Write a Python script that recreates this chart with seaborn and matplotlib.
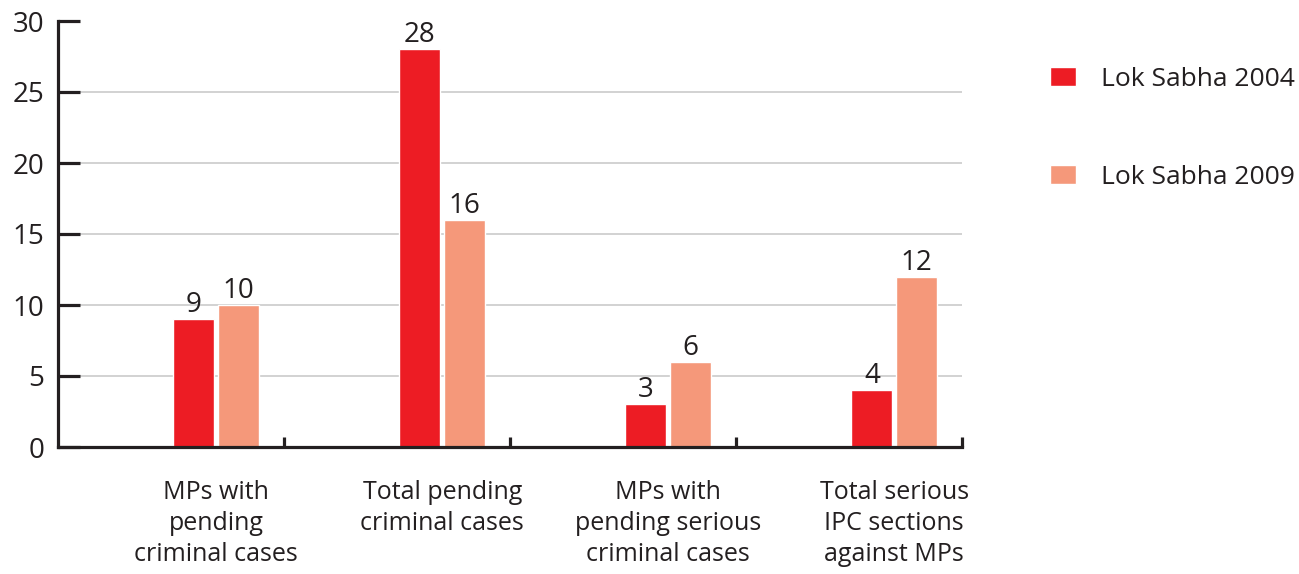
import matplotlib.pyplot as plt
import pandas as pd
import seaborn as sns
from matplotlib.ticker import FixedLocator

# chart data
categories = [
    'MPs with\npending\ncriminal cases',
    'Total pending\ncriminal cases',
    'MPs with\npending serious\ncriminal cases',
    'Total serious\nIPC sections\nagainst MPs',
]
series_names = ['Lok Sabha 2004', 'Lok Sabha 2009']
values_2004 = [9, 28, 3, 4]
values_2009 = [10, 16, 6, 12]
y_ticks = [0, 5, 10, 15, 20, 25, 30]

colors = {'Lok Sabha 2004': '#ED1C24', 'Lok Sabha 2009': '#F5987A'}
ink = '#231F20'

df = pd.DataFrame({
    'Category': categories * 2,
    'Series': [series_names[0]] * 4 + [series_names[1]] * 4,
    'Value': values_2004 + values_2009,
})

sns.set_style('white')
plt.rcParams['font.family'] = ['Open Sans', 'DejaVu Sans']
plt.rcParams['text.color'] = ink

fig = plt.figure(figsize=(12.99, 5.74), dpi=100)
ax = fig.add_axes([58 / 1299, 1 - 447 / 574, (962 - 58) / 1299, (447 - 21) / 574])

sns.barplot(data=df, x='Category', y='Value', hue='Series', palette=colors,
            width=0.395, gap=0.085, saturation=1, ax=ax)

# value labels on top of bars
for container in ax.containers:
    ax.bar_label(container, fontsize=20, color=ink, padding=0)

ax.set_xlim(-0.7, 3.3)
ax.set_ylim(0, 30)
ax.set_yticks(y_ticks)
ax.set_xlabel('')
ax.set_ylabel('')

# gridlines (none at the top value)
for y in y_ticks[1:-1]:
    ax.axhline(y, color='#D2D2D2', linewidth=1.4, zorder=0)

for side in ['top', 'right']:
    ax.spines[side].set_visible(False)
for side in ['left', 'bottom']:
    ax.spines[side].set_color(ink)
    ax.spines[side].set_linewidth(2.3)

ax.tick_params(axis='y', left=True, direction='in', length=16, width=2.3, color=ink,
               labelsize=20, labelcolor=ink, pad=10)
ax.tick_params(axis='x', which='major', bottom=True, length=0, labelsize=18,
               labelcolor=ink, pad=24)
ax.xaxis.set_minor_locator(FixedLocator([0.3, 1.3, 2.3, 3.3]))
ax.tick_params(axis='x', which='minor', bottom=True, direction='in', length=7,
               width=2.3, color=ink)
for lbl in ax.get_xticklabels():
    lbl.set_linespacing(1.32)
    lbl.set_verticalalignment('top')

sns.move_legend(ax, loc='upper left', bbox_to_anchor=(1050 / 1299, 1 - 67 / 574),
                bbox_transform=fig.transFigure, frameon=False, title=None,
                fontsize=19, handlelength=1.0, handleheight=0.75,
                handletextpad=0.95, labelspacing=2.75, borderpad=0, borderaxespad=0)

fig.savefig('out.png', dpi=100)
